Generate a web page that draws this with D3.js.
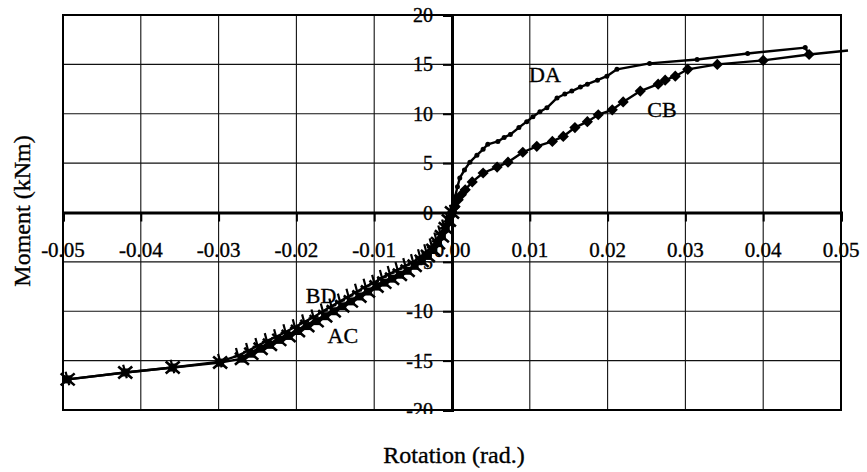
<!DOCTYPE html>
<html>
<head>
<meta charset="utf-8">
<script src="https://cdn.jsdelivr.net/npm/d3@7/dist/d3.min.js"></script>
<style>
  html, body { margin: 0; padding: 0; background: #fff; }
  svg { display: block; }
  text { font-family: "Liberation Serif", "Times New Roman", serif; fill: #000; stroke: #000; stroke-width: 0.35px; }
</style>
</head>
<body>
<svg id="chart" width="867" height="472"></svg>
<script>
// ---- data (rotation in rad, moment in kNm) ----
const xTicks = [-0.05, -0.04, -0.03, -0.02, -0.01, 0.00, 0.01, 0.02, 0.03, 0.04, 0.05];
const xTickLabels = ["-0.05", "-0.04", "-0.03", "-0.02", "-0.01", "0.00", "0.01", "0.02", "0.03", "0.04", "0.05"];
const yTicks = [-20, -15, -10, -5, 0, 5, 10, 15, 20];
const yTickLabels = ["-20", "-15", "-10", "-5", "0", "5", "10", "15", "20"];

const daRot = [0, 0.0002, 0.0004, 0.0007, 0.0010, 0.0016, 0.0023, 0.0032, 0.0040, 0.0046, 0.0059, 0.0067, 0.0075, 0.0086, 0.0096, 0.0104, 0.0113, 0.0122, 0.0135, 0.0145, 0.0154, 0.0165, 0.0174, 0.0187, 0.0199, 0.0212, 0.0254, 0.0315, 0.0380, 0.0454, 0.0459];
const daMom = [0, 0.8, 1.6, 2.6, 3.5, 4.3, 5.1, 5.8, 6.4, 6.9, 7.2, 7.6, 7.9, 8.6, 9.2, 9.7, 10.2, 10.6, 11.6, 12.0, 12.3, 12.7, 13.0, 13.4, 13.8, 14.5, 15.1, 15.5, 16.1, 16.7, 16.0];

const cbRot = [0, 0.0004, 0.0008, 0.0012, 0.0017, 0.0026, 0.0040, 0.0058, 0.0072, 0.0091, 0.0109, 0.0129, 0.0143, 0.0158, 0.0174, 0.0188, 0.0206, 0.0220, 0.0242, 0.0265, 0.0274, 0.0287, 0.0303, 0.0341, 0.0400, 0.0459, 0.0509];
const cbMom = [0, 0.6, 1.3, 1.8, 2.3, 3.1, 4.0, 4.6, 5.1, 6.1, 6.7, 7.2, 7.7, 8.6, 9.2, 9.9, 10.4, 11.2, 12.3, 13.0, 13.4, 13.8, 14.5, 15.0, 15.4, 16.0, 16.4];
const cbMarked = 26; // last value is the line running past the frame, drawn without a marker

const bdRot = [-0.0494, -0.0420, -0.0359, -0.0298, -0.0275, -0.0262, -0.0250, -0.0238, -0.0226, -0.0214, -0.0202, -0.0190, -0.0178, -0.0166, -0.0155, -0.0144, -0.0133, -0.0122, -0.0111, -0.0100, -0.0090, -0.0080, -0.0070, -0.0060, -0.0050, -0.0041, -0.0033, -0.0026, -0.0020, -0.0015, -0.0010, -0.0005, 0];
const bdMom = [-16.9, -16.2, -15.7, -15.1, -14.5, -14.0, -13.5, -13.0, -12.6, -12.1, -11.6, -11.1, -10.6, -10.0, -9.5, -9.0, -8.5, -8.0, -7.5, -7.1, -6.6, -6.2, -5.8, -5.4, -5.0, -4.5, -4.0, -3.4, -2.8, -2.1, -1.5, -0.8, 0];

const acRot = [-0.0494, -0.0420, -0.0359, -0.0298, -0.0270, -0.0258, -0.0246, -0.0234, -0.0222, -0.0210, -0.0198, -0.0186, -0.0174, -0.0163, -0.0152, -0.0141, -0.0130, -0.0119, -0.0108, -0.0097, -0.0087, -0.0077, -0.0067, -0.0057, -0.0048, -0.0039, -0.0031, -0.0024, -0.0018, -0.0013, -0.0008, -0.0004, 0];
const acMom = [-16.9, -16.2, -15.7, -15.2, -14.8, -14.3, -13.8, -13.4, -12.9, -12.5, -12.0, -11.5, -11.0, -10.5, -10.0, -9.5, -9.0, -8.5, -8.0, -7.5, -7.1, -6.7, -6.3, -5.9, -5.4, -4.9, -4.4, -3.8, -3.1, -2.4, -1.6, -0.8, 0];

const seriesNames = ["DA", "CB", "BD", "AC"];
const seriesLabelAt = [[0.0099, 13.2], [0.0251, 9.7], [-0.0188, -9.2], [-0.0160, -13.2]];

// ---- layout ----
const svg = d3.select("#chart");
const pLeft = 63, pRight = 841, pTop = 15, pBottom = 410;
const x = d3.scaleLinear().domain([-0.05, 0.05]).range([pLeft, pRight]);
const y = d3.scaleLinear().domain([-20, 20]).range([pBottom, pTop]);
const zip = (a, b) => a.map((v, i) => [v, b[i]]);

svg.append("clipPath").attr("id", "lblclip")
  .append("rect").attr("x", 0).attr("y", 0).attr("width", 867).attr("height", pBottom + 4);

const x0 = x(0), y0 = y(0);
svg.append("g").selectAll("text").data(xTicks).join("text")
  .attr("x", d => x(d)).attr("y", y0 + 44)
  .attr("text-anchor", "middle").style("font-size", "21px")
  .text((d, i) => xTickLabels[i]);

svg.append("g").attr("clip-path", "url(#lblclip)")
  .selectAll("text").data(yTicks).join("text")
  .attr("x", x0 - 19).attr("y", d => y(d))
  .attr("dy", "0.35em")
  .attr("text-anchor", "end").style("font-size", "20px")
  .text((d, i) => yTickLabels[i]);

// grid
const grid = svg.append("g").attr("stroke", "#111").attr("stroke-width", 1.1);
grid.selectAll("line.v").data(xTicks).join("line").attr("class", "v")
  .attr("x1", d => x(d)).attr("x2", d => x(d)).attr("y1", pTop).attr("y2", pBottom);
grid.selectAll("line.h").data(yTicks).join("line").attr("class", "h")
  .attr("y1", d => y(d)).attr("y2", d => y(d)).attr("x1", pLeft).attr("x2", pRight);

// frame
svg.append("rect").attr("x", pLeft).attr("y", pTop)
  .attr("width", pRight - pLeft).attr("height", pBottom - pTop)
  .attr("fill", "none").attr("stroke", "#000").attr("stroke-width", 2);

// axes through origin
const xAxis = d3.axisBottom(x).tickValues(xTicks).tickSize(9).tickFormat("");
const gx = svg.append("g").attr("transform", `translate(0,${y0})`).call(xAxis);
gx.select(".domain").attr("stroke", "#000").attr("stroke-width", 3);
gx.selectAll(".tick line").attr("stroke", "#000").attr("stroke-width", 2);

const yAxis = d3.axisLeft(y).tickValues(yTicks).tickSize(9).tickFormat("");
const gy = svg.append("g").attr("transform", `translate(${x0},0)`).call(yAxis);
gy.select(".domain").attr("stroke", "#000").attr("stroke-width", 3);
gy.selectAll(".tick line").attr("stroke", "#000").attr("stroke-width", 2);

// series
const line = d3.line().x(d => x(d[0])).y(d => y(d[1]));
const daPts = zip(daRot, daMom), cbPts = zip(cbRot, cbMom);
const bdPts = zip(bdRot, bdMom), acPts = zip(acRot, acMom);

[bdPts, acPts, cbPts, daPts].forEach(p => {
  svg.append("path").datum(p).attr("d", line)
    .attr("fill", "none").attr("stroke", "#000").attr("stroke-width", 2.4)
    .attr("stroke-linejoin", "round");
});

// DA small dots
svg.append("g").selectAll("circle").data(daPts).join("circle")
  .attr("cx", d => x(d[0])).attr("cy", d => y(d[1])).attr("r", 2.5).attr("fill", "#000");
// CB diamonds
svg.append("g").selectAll("path").data(cbPts.slice(0, cbMarked)).join("path")
  .attr("transform", d => `translate(${x(d[0])},${y(d[1])})`)
  .attr("d", d3.symbol(d3.symbolDiamond2, 80)).attr("fill", "#000");
// AC: x with filled square
const acG = svg.append("g").selectAll("g").data(acPts).join("g")
  .attr("transform", d => `translate(${x(d[0])},${y(d[1])})`);
acG.append("rect").attr("x", -4).attr("y", -4).attr("width", 8).attr("height", 8).attr("fill", "#000");
acG.append("path").attr("d", "M-7,-6L7,6M-7,6L7,-6").attr("stroke", "#000").attr("stroke-width", 2.6);
// BD: plus markers
svg.append("g").selectAll("path").data(bdPts).join("path")
  .attr("transform", d => `translate(${x(d[0])},${y(d[1])}) rotate(-15)`)
  .attr("d", "M0,-8L0,6M-5,0L5,0").attr("stroke", "#000").attr("stroke-width", 2.2);

// series labels
svg.append("g").selectAll("text").data(seriesNames).join("text")
  .attr("x", (d, i) => x(seriesLabelAt[i][0])).attr("y", (d, i) => y(seriesLabelAt[i][1]))
  .style("font-size", "22px").text(d => d);

// axis titles
svg.append("text").attr("x", 454).attr("y", 463).attr("text-anchor", "middle")
  .style("font-size", "24px").text("Rotation (rad.)");
svg.append("text").attr("transform", "translate(30,211) rotate(-90)").attr("text-anchor", "middle")
  .style("font-size", "24px").text("Moment (kNm)");
</script>
</body>
</html>
